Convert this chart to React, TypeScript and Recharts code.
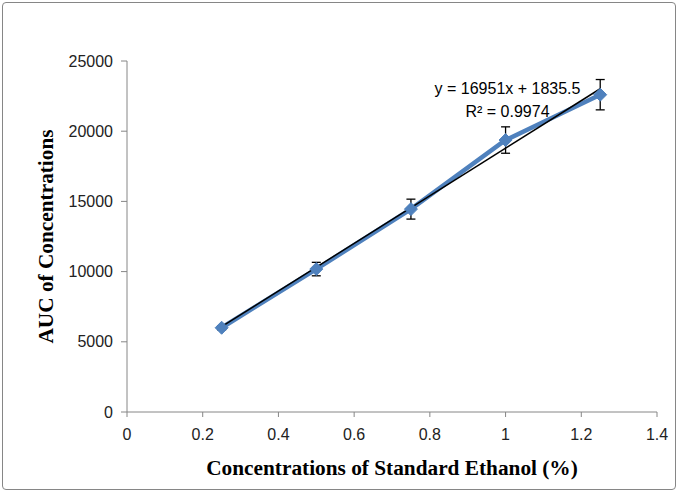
import React from "react";
import {
  ComposedChart,
  Line,
  XAxis,
  YAxis,
  ErrorBar,
} from "recharts";

// measured points
const concentrations = [0.25, 0.5, 0.75, 1.0, 1.25];
const aucValues = [6000, 10180, 14450, 19370, 22600];
const aucErrors = [150, 480, 710, 940, 1080];

// linear trendline ends (y = 16951x + 1835.5)
const trendX = [0.25, 1.25];
const trendY = [6073, 23024];

const xTicks = [0, 0.2, 0.4, 0.6, 0.8, 1, 1.2, 1.4];
const yTicks = [0, 5000, 10000, 15000, 20000, 25000];

const data = concentrations.map((x, i) => ({
  x,
  auc: aucValues[i],
  err: aucErrors[i],
}));
const trendData = trendX.map((x, i) => ({ x, trend: trendY[i] }));

const BLUE = "#4F81BD";
const AXIS = "#868686";
const TICK_FONT = "'Liberation Sans', Arial, sans-serif";
const TITLE_FONT = "'Liberation Serif', 'Times New Roman', serif";

const Diamond = (props: any) => {
  const { cx, cy } = props;
  if (cx == null || cy == null) return null;
  const r = 6.5;
  return (
    <polygon
      key={`d-${cx}`}
      points={`${cx},${cy - r} ${cx + r},${cy} ${cx},${cy + r} ${cx - r},${cy}`}
      fill={BLUE}
      stroke={BLUE}
    />
  );
};

const xFmt = (v: number) => String(Number(v.toFixed(1)));

export default function App() {
  return (
    <div
      style={{
        position: "absolute",
        left: 0,
        top: 0,
        width: 678,
        height: 492,
        background: "#fff",
      }}
    >
      <div
        style={{
          position: "absolute",
          left: 2,
          top: 2,
          width: 674,
          height: 488,
          border: `1px solid ${AXIS}`,
          borderRadius: 4,
          boxSizing: "border-box",
        }}
      />
      <div style={{ position: "absolute", left: 0, top: 0 }}>
        <ComposedChart
          width={678}
          height={492}
          margin={{ top: 61, right: 21, bottom: 0, left: 0 }}
        >
          <XAxis
            dataKey="x"
            type="number"
            domain={[0, 1.4]}
            ticks={xTicks}
            tickFormatter={xFmt}
            allowDataOverflow
            height={80}
            stroke={AXIS}
            tickSize={5}
            tick={{ fill: "#222", fontSize: 16, fontFamily: TICK_FONT, dy: 10 }}
            label={{
              value: "Concentrations of Standard Ethanol (%)",
              position: "insideBottom",
              offset: 17,
              style: {
                fill: "#000",
                fontSize: 21.3,
                fontWeight: "bold",
                fontFamily: TITLE_FONT,
              },
            }}
          />
          <YAxis
            type="number"
            domain={[0, 25000]}
            ticks={yTicks}
            allowDataOverflow
            width={127}
            stroke={AXIS}
            tickSize={6}
            tick={{ fill: "#222", fontSize: 16, fontFamily: TICK_FONT, dx: -6 }}
            label={{
              value: "AUC of Concentrations",
              angle: -90,
              position: "insideLeft",
              offset: 45,
              style: {
                fill: "#000",
                fontSize: 21.3,
                fontWeight: "bold",
                fontFamily: TITLE_FONT,
                textAnchor: "middle",
              },
            }}
          />
          <Line
            data={data}
            dataKey="auc"
            stroke={BLUE}
            strokeWidth={4.5}
            dot={Diamond}
            activeDot={false}
            isAnimationActive={false}
          >
            <ErrorBar
              dataKey="err"
              direction="y"
              width={4.5}
              stroke="#000"
              strokeWidth={1.3}
            />
          </Line>
          <Line
            data={trendData}
            dataKey="trend"
            stroke="#000"
            strokeWidth={1.5}
            dot={false}
            activeDot={false}
            isAnimationActive={false}
          />
        </ComposedChart>
      </div>
      <div
        style={{
          position: "absolute",
          left: 400,
          top: 77,
          width: 215,
          textAlign: "center",
          fontFamily: TICK_FONT,
          fontSize: 16,
          lineHeight: "23px",
          color: "#000",
        }}
      >
        <div>y = 16951x + 1835.5</div>
        <div>R² = 0.9974</div>
      </div>
    </div>
  );
}
